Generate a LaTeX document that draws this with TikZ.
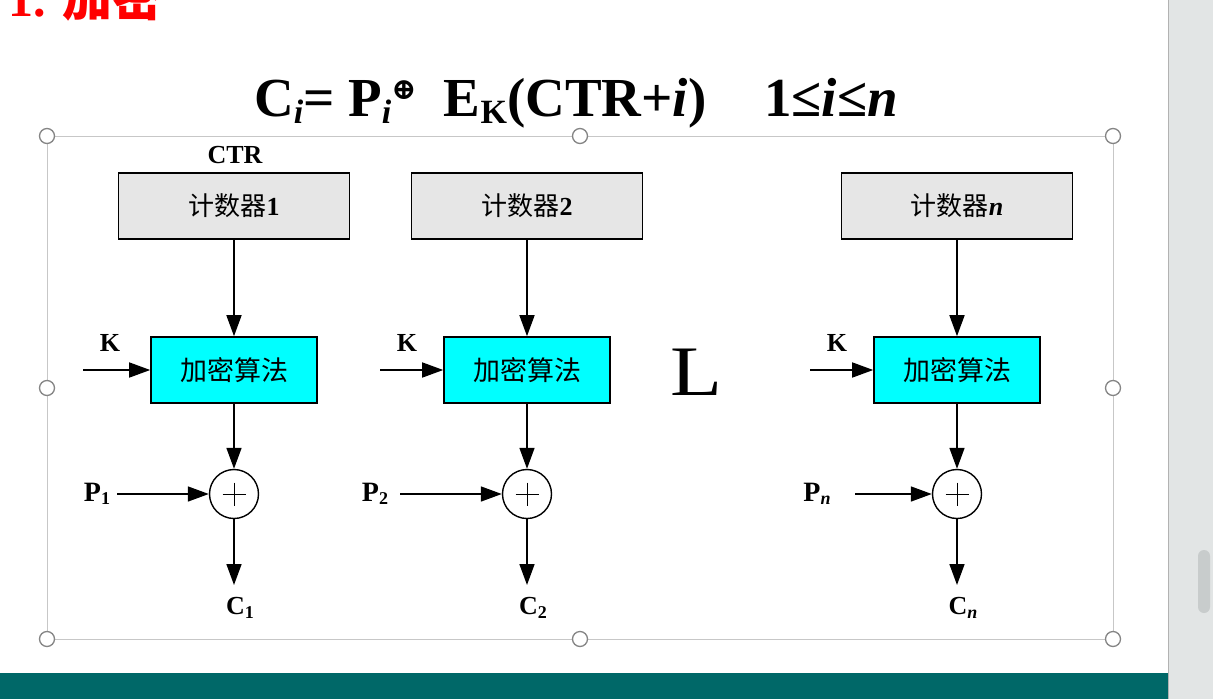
\documentclass[tikz,border=0pt]{standalone}
\usepackage{fontspec}
\setmainfont{Liberation Serif}
\newfontfamily\cjk{Noto Sans CJK SC}
\newfontfamily\symfont{DejaVu Serif}
\usetikzlibrary{arrows.meta}
\definecolor{slideteal}{RGB}{0,104,104}
\definecolor{scrollgray}{RGB}{226,229,229}
\definecolor{thumbgray}{RGB}{200,204,204}
\definecolor{ctrgray}{RGB}{230,230,230}
\definecolor{enccyan}{RGB}{0,255,255}
\newcommand{\fsz}[1]{\fontsize{#1}{#1}\selectfont}
\newcommand{\lowsub}[2]{\raisebox{-0.13em}{\fsz{#1}#2}}

\begin{document}
\begin{tikzpicture}[
  x=1pt, y=-1pt,
  title/.style={font=\fsz{50}\bfseries, text=red, inner sep=0},
  formula/.style={font=\fsz{55}\bfseries, inner sep=0},
  lbl/.style={font=\fsz{26}\bfseries, inner sep=0},
  plbl/.style={font=\fsz{28}\bfseries, inner sep=0},
  counter/.style={draw, line width=1.6pt, fill=ctrgray, minimum width=231pt, minimum height=66pt, inner sep=0, font=\fsz{26}},
  encbox/.style={draw, line width=1.6pt, fill=enccyan, minimum width=166pt, minimum height=66pt, inner sep=0, font=\fsz{27}},
  xor/.style={circle, draw, line width=1.4pt, minimum size=49pt, inner sep=0,
    path picture={\draw[line width=0.9pt] (path picture bounding box.center) +(-11.5,0) -- +(11.5,0)
      (path picture bounding box.center) +(0,-11.5) -- +(0,11.5);}},
  conn/.style={-{Triangle[length=21pt, width=15pt]}, line width=1.6pt},
  selframe/.style={draw=black!22, line width=0.8pt},
  handle/.style={circle, draw=black!48, line width=1.3pt, fill=white, minimum size=15pt, inner sep=0}
]
\useasboundingbox (0,0) rectangle (1213,699);
\clip (0,0) rectangle (1213,699);

% Slide background, scroll bar and bottom bar
\fill[white] (0,0) rectangle (1168,699);
\fill[scrollgray] (1168,0) rectangle (1213,699);
\draw[black!30, line width=1pt] (1168.5,0) -- (1168.5,699);
\fill[thumbgray, rounded corners=6pt] (1198,550) rectangle (1210,613);
\fill[slideteal] (0,673) rectangle (1168,699);

% Title (cut at the top) and formula
\node[title, anchor=base west] (ttl) at (8,16) {1. {\cjk 加密}};
\node[formula, anchor=base] (eq) at (576,116)
  {C\lowsub{34}{\textit{i}}= P\lowsub{34}{\textit{i}}\raisebox{0.3em}{\symfont\fsz{30}⊕}\hspace{0.5em}E\lowsub{34}{K}(CTR+\textit{i})\hspace{1.05em}1≤\textit{i}≤\textit{n}};

% Selection frame with handles
\draw[selframe] (47,136) rectangle (1113,639);
\foreach \hx/\hy [count=\k] in {47/136, 580/136, 1113/136, 47/388, 1113/388, 47/639, 580/639, 1113/639}{
  \node[handle] (h\k) at (\hx,\hy) {};
}

\node[lbl] (ctrlbl) at (235,155) {CTR};

% One column per counter: column x / index / subscript / K label x / K start / P label x / P start
\foreach \cx/\idx/\sub/\kx/\ks/\px/\ps in {
  234/1/1/110/83/97/117,
  527/2/2/407/380/375/400,
  957/n/\textit{n}/837/810/817/855%
}{
  \node[counter] (ctr\idx) at (\cx,206) {{\cjk 计数器}\textbf{\sub}};
  \node[encbox] (enc\idx) at (\cx,370) {{\cjk 加密算法}};
  \node[xor] (xor\idx) at (\cx,494) {};
  \draw[conn] (ctr\idx) -- (enc\idx);
  \draw[conn] (enc\idx) -- (xor\idx);
  % key input
  \node[lbl] (k\idx) at (\kx,343) {K};
  \coordinate (kin\idx) at (\ks,370);
  \draw[conn] (kin\idx) -- (enc\idx);
  % plaintext input
  \node[plbl] (p\idx) at (\px,494) {P\lowsub{18}{\sub}};
  \coordinate (pin\idx) at (\ps,494);
  \draw[conn] (pin\idx) -- (xor\idx);
  % ciphertext output
  \coordinate (out\idx) at (\cx,585);
  \draw[conn] (xor\idx) -- (out\idx);
  \node[lbl] (c\idx) at (\cx+6,608) {C\lowsub{18}{\sub}};
}

% Ellipsis glyph between columns
\node[font=\fsz{71}, inner sep=0, anchor=base, xscale=1.2] (ell) at (697,395) {L};

\end{tikzpicture}
\end{document}
